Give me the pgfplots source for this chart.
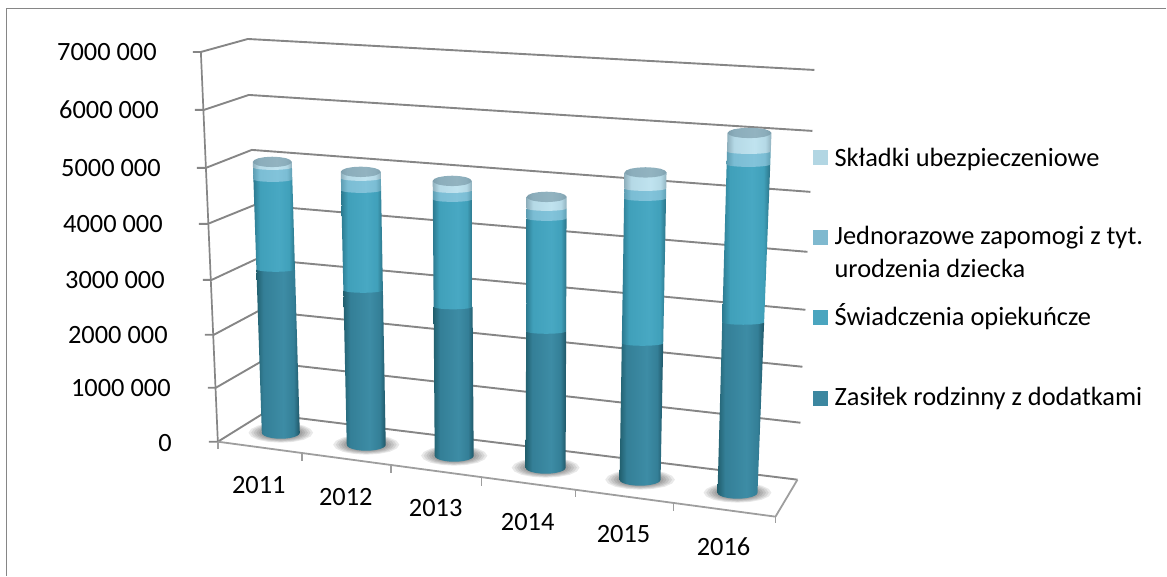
\documentclass[border=0pt]{standalone}
\usepackage{fontspec}
\setmainfont{Carlito}
\usepackage{pgfplots}
\pgfplotsset{compat=1.18}
\tikzset{lab/.style={inner sep=0pt,font=\fontsize{26.4}{31}\selectfont,text=black}}
\definecolor{gridc}{HTML}{868686}
\definecolor{d0}{HTML}{22606F}\definecolor{d1}{HTML}{347F97}\definecolor{d2}{HTML}{3D8CA5}\definecolor{d3}{HTML}{1F5666}
\definecolor{t0}{HTML}{2C7A90}\definecolor{t1}{HTML}{40A0BA}\definecolor{t2}{HTML}{48A8C3}\definecolor{t3}{HTML}{2B7387}
\definecolor{m0}{HTML}{5E9EB3}\definecolor{m1}{HTML}{7BBDD4}\definecolor{m2}{HTML}{82C3DA}\definecolor{m3}{HTML}{5F9FB3}
\definecolor{l0}{HTML}{8FB0BD}\definecolor{l1}{HTML}{B5D9E6}\definecolor{l2}{HTML}{C0E3EF}\definecolor{l3}{HTML}{8FB0BD}
\definecolor{k0}{HTML}{7E9FAD}\definecolor{k1}{HTML}{8BADBB}\definecolor{k2}{HTML}{92B3C0}\definecolor{k3}{HTML}{7E9FAD}
\definecolor{keyL}{HTML}{B2D6E3}\definecolor{keyM}{HTML}{7FB9CF}\definecolor{keyT}{HTML}{4AA5BF}\definecolor{keyD}{HTML}{3C87A0}
\newcommand\declcyl[2]{\pgfdeclarehorizontalshading{#1}{100bp}{color(0bp)=(#20);color(25bp)=(#20);color(33bp)=(#21);color(56bp)=(#22);color(68bp)=(#21);color(75bp)=(#23);color(100bp)=(#23)}}
\declcyl{cylD}{d}\declcyl{cylT}{t}\declcyl{cylM}{m}\declcyl{cylL}{l}\declcyl{cylK}{k}
% geometry helper: x of the cylinder's edges at pixel level y
\newcommand\lr[1]{%
  \pgfmathsetmacro\ttt{(\base-#1)/(\base-\topy)}%
  \pgfmathsetmacro\xL{\xbl+\ttt*(\xtl-\xbl)}%
  \pgfmathsetmacro\xR{\xbr+\ttt*(\xtr-\xbr)}}
% one stacked segment: value from #1 to #2 (thousands), shading #3, arc depth #4
\newcommand\seg[4]{%
  \pgfmathsetmacro\yB{\base-(#1)/1000*\scl}%
  \pgfmathsetmacro\yT{\base-(#2)/1000*\scl}%
  \lr{\yT}\let\xLT\xL\let\xRT\xR
  \lr{\yB}%
  \pgfmathsetmacro\xc{(\xL+\xR)/2}%
  \pgfmathsetmacro\hw{(\xR-\xL)/2}%
  \xdef\pts{(\xLT,\yT) (\xRT,\yT)}%
  \foreach \pu/\pd in {1/0,.97/.26,.87/.5,.71/.71,.5/.87,.26/.97,0/1,-.26/.97,-.5/.87,-.71/.71,-.87/.5,-.97/.26,-1/0}{%
    \pgfmathsetmacro\px{\xc+\pu*\hw}\pgfmathsetmacro\py{\yB+\pd*#4}\xdef\pts{\pts (\px,\py)}}%
  \edef\temp{\noexpand\addplot[forget plot,draw=none,shade,shading=#3] coordinates {\pts};}\temp}
% ellipse centred at #1,#2 with radii #3,#4
\newcommand\ellp[4]{%
  \xdef\pts{}%
  \foreach \pu/\pd in {1/0,.92/.38,.71/.71,.38/.92,0/1,-.38/.92,-.71/.71,-.92/.38,-1/0,-.92/-.38,-.71/-.71,-.38/-.92,0/-1,.38/-.92,.71/-.71,.92/-.38}{%
    \pgfmathsetmacro\px{#1+\pu*#3}\pgfmathsetmacro\py{#2+\pd*#4}\xdef\pts{\pts (\px,\py)}}}
% \cyl{x top l}{x top r}{x bot l}{x bot r}{base px}{px per million}{v1}{v2}{v3}{v4}
\newcommand\cyl[6]{\def\xtl{#1}\def\xtr{#2}\def\xbl{#3}\def\xbr{#4}\def\base{#5}\def\scl{#6}\cylB}
\newcommand\cylB[4]{%
  \pgfmathsetmacro\sA{#1}\pgfmathsetmacro\sB{#1+#2}\pgfmathsetmacro\sC{#1+#2+#3}\pgfmathsetmacro\sD{#1+#2+#3+#4}%
  \pgfmathsetmacro\topy{\base-\sD/1000*\scl}%
  \pgfmathsetmacro\bc{(\xbl+\xbr)/2}\pgfmathsetmacro\bw{(\xbr-\xbl)/2}%
  \pgfplotsforeachungrouped \shf in {1,.92,.84,.76,.68,.6,.52,.44}{%
    \pgfmathsetmacro\ra{\bw*1.7*\shf}\pgfmathsetmacro\rb{10*\shf}%
    \ellp{\bc}{\base}{\ra}{\rb}%
    \edef\temp{\noexpand\addplot[forget plot,draw=none,fill=black,fill opacity=.085] coordinates {\pts};}\temp}%
  \seg{0}{\sA}{cylD}{6}\seg{\sA}{\sB}{cylT}{2.5}\seg{\sB}{\sC}{cylM}{2.5}\seg{\sC}{\sD}{cylL}{2.5}%
  \pgfmathsetmacro\tc{(\xtl+\xtr)/2}\pgfmathsetmacro\tw{(\xtr-\xtl)/2}%
  \ellp{\tc}{\topy}{\tw}{5.2}%
  \edef\temp{\noexpand\addplot[forget plot,draw=none,shade,shading=cylK] coordinates {\pts};}\temp}
\newcommand\sq[3]{\addplot[forget plot,draw=none,fill=#3] coordinates {(814,#1)(829,#1)(829,#2)(814,#2)};}
\begin{document}
\begin{tikzpicture}
\begin{axis}[hide axis,scale only axis,width=1167pt,height=576pt,xmin=0,xmax=1167,ymin=0,ymax=576,y dir=reverse,clip=false,
  every axis plot/.append style={line join=round}]
% page extent
\path (axis cs:0,0) rectangle (axis cs:1167,576);
% chart frame
\addplot[forget plot,color=gridc,line width=1.6pt] coordinates {(6.5,576)(6.5,8.5)(1167,8.5)};
% walls: one line per tick, front-left -> back-left -> back-right
\addplot[forget plot,color=gridc,line width=1.9pt] coordinates {(193,52)(201,52)(248,39)(815,70)};
\addplot[forget plot,color=gridc,line width=1.9pt] coordinates {(195,110)(204,110)(249,95)(813,131)};
\addplot[forget plot,color=gridc,line width=1.9pt] coordinates {(197,168)(206,168)(252,150)(811,192)};
\addplot[forget plot,color=gridc,line width=1.9pt] coordinates {(199,224)(208,224)(255,205)(808,252)};
\addplot[forget plot,color=gridc,line width=1.9pt] coordinates {(203,280)(212,280)(257,259)(806,310)};
\addplot[forget plot,color=gridc,line width=1.9pt] coordinates {(205,335)(214,335)(259,311)(803,367)};
\addplot[forget plot,color=gridc,line width=1.9pt] coordinates {(208,388)(216,388)(261,362)(801,423)};
\addplot[forget plot,color=gridc,line width=1.9pt] coordinates {(209,442)(218,442)(263,414)(798,480)};
% vertical axis, floor
\addplot[forget plot,color=gridc,line width=1.7pt] coordinates {(201,52)(218,442)};
\addplot[forget plot,color=gridc!80,line width=1.8pt] coordinates {(218,442)(776,517)(798,480)};
\addplot[forget plot,color=gridc!80,line width=1.6pt] coordinates {(218,442)(218,449)};
\addplot[forget plot,color=gridc!80,line width=1.6pt] coordinates {(302,453)(302,461)};
\addplot[forget plot,color=gridc!80,line width=1.6pt] coordinates {(391,465)(391,473)};
\addplot[forget plot,color=gridc!80,line width=1.6pt] coordinates {(482,477)(482,486)};
\addplot[forget plot,color=gridc!80,line width=1.6pt] coordinates {(576,490)(576,497)};
\addplot[forget plot,color=gridc!80,line width=1.6pt] coordinates {(674,503)(674,511)};
\addplot[forget plot,color=gridc!80,line width=1.6pt] coordinates {(776,517)(776,523)};
% cylinders: values in thousands (Zasiłek, Świadczenia, Jednorazowe, Składki)
\cyl{253}{292}{262}{300}{433}{54.8}{2984}{1642}{219}{100}
\cyl{341}{381}{347}{386}{445}{55.6}{2779}{1799}{216}{117}
\cyl{433}{472}{435}{474}{456}{56.5}{2637}{1903}{159}{168}
\cyl{527}{567}{526}{566}{468}{57.4}{2378}{1969}{174}{200}
\cyl{625}{667}{620}{661}{480}{58.4}{2337}{2483}{171}{274}
\cyl{728}{772}{718}{758}{493}{59.5}{2866}{2655}{218}{311}
% legend keys
\sq{150}{165}{keyL}
\sq{230}{245}{keyM}
\sq{310}{325}{keyT}
\sq{391}{406}{keyD}
% value labels
\node[lab,anchor=east] at (axis cs:157,52) {7000 000};
\node[lab,anchor=east] at (axis cs:159,110) {6000 000};
\node[lab,anchor=east] at (axis cs:161,168) {5000 000};
\node[lab,anchor=east] at (axis cs:163,224) {4000 000};
\node[lab,anchor=east] at (axis cs:165,280) {3000 000};
\node[lab,anchor=east] at (axis cs:168,335) {2000 000};
\node[lab,anchor=east] at (axis cs:171,388) {1000 000};
\node[lab,anchor=east] at (axis cs:172,443) {0};
% years
\node[lab] at (axis cs:259,485) {2011};
\node[lab] at (axis cs:346,497) {2012};
\node[lab] at (axis cs:436,508) {2013};
\node[lab] at (axis cs:528,522) {2014};
\node[lab] at (axis cs:624,534) {2015};
\node[lab] at (axis cs:724,547) {2016};
% legend texts
\node[lab,anchor=base west] at (axis cs:835,167) {Składki ubezpieczeniowe};
\node[lab,anchor=base west] at (axis cs:835,245) {Jednorazowe zapomogi z tyt.};
\node[lab,anchor=base west] at (axis cs:835,278) {urodzenia dziecka};
\node[lab,anchor=base west] at (axis cs:835,326) {Świadczenia opiekuńcze};
\node[lab,anchor=base west] at (axis cs:835,406) {Zasiłek rodzinny z dodatkami};
\end{axis}
\end{tikzpicture}
\end{document}
